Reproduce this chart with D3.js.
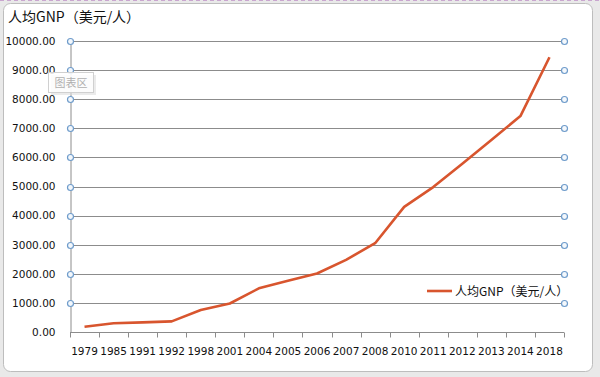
<!DOCTYPE html>
<html lang="zh">
<head>
<meta charset="UTF-8"/>
<title>人均GNP</title>
<script src="https://d3js.org/d3.v7.min.js"></script>
<style>
    body { margin: 0; background: #e9e9e9; }
    text { font-family: "Noto Sans CJK SC", "DejaVu Sans", sans-serif; }
</style>
</head>
<body>
<div id="chart"></div>
<script>
    let width = 600;
    let height = 377;

    // years on the category axis
    var years = ["1979", "1985", "1991", "1992", "1998", "2001", "2004", "2005", "2006",
        "2007", "2008", "2010", "2011", "2012", "2013", "2014", "2018"];
    // GNP per person (USD)
    var gnp = [183, 300, 330, 366, 756, 980, 1500, 1760, 2010,
        2480, 3050, 4300, 4980, 5780, 6600, 7420, 9440];
    var yTicks = [0, 1000, 2000, 3000, 4000, 5000, 6000, 7000, 8000, 9000, 10000];
    var seriesName = "人均GNP（美元/人）";

    // plot area (note: "top" is reserved on window, so use other names)
    var plotL = 70, plotR = 564, plotT = 41, plotB = 332;
    var lineColor = "#d8552e";

    var svg = d3.select("#chart").append("svg")
        .attr("width", width).attr("height", height);

    // outer frame
    svg.append("rect").attr("width", width).attr("height", height).attr("fill", "#e9e9e9");
    svg.append("line").attr("x1", 0).attr("x2", width).attr("y1", 0.5).attr("y2", 0.5)
        .attr("stroke", "#c9a6cf").attr("stroke-dasharray", "4,3");
    svg.append("rect").attr("x", 3.5).attr("y", 3.5).attr("width", 589).attr("height", 368)
        .attr("rx", 7).attr("fill", "#fff").attr("stroke", "#bdbdbd");

    var xScale = d3.scaleBand().domain(years).range([plotL, plotR]);
    var yScale = d3.scaleLinear().domain([0, 10000]).range([plotB, plotT]);

    // gridlines
    svg.append("g").selectAll("line").data(yTicks.slice(1)).enter().append("line")
        .attr("x1", plotL).attr("x2", plotR)
        .attr("y1", d => Math.round(yScale(d)) + 0.5)
        .attr("y2", d => Math.round(yScale(d)) + 0.5)
        .attr("stroke", "#8c8c8c");

    // y axis
    var yAxis = d3.axisLeft(yScale).tickValues(yTicks).tickSize(0).tickPadding(15)
        .tickFormat(d3.format(".2f"));
    var gy = svg.append("g").attr("transform", "translate(" + (plotL + 0.5) + ",0)").call(yAxis);
    gy.select(".domain").attr("stroke", "#8c8c8c");
    gy.selectAll("text").attr("fill", "#111")
        .style("font-family", "'DejaVu Sans', sans-serif").attr("font-size", 10.5);

    // x axis, ticks between categories
    var gx = svg.append("g").attr("transform", "translate(0," + (plotB + 0.5) + ")");
    gx.append("line").attr("x1", plotL).attr("x2", plotR).attr("stroke", "#8c8c8c");
    var edges = years.map(d => xScale(d)).concat([plotR]);
    gx.selectAll("line.tk").data(edges).enter().append("line").attr("class", "tk")
        .attr("x1", d => Math.round(d) + 0.5).attr("x2", d => Math.round(d) + 0.5)
        .attr("y1", 0).attr("y2", 5).attr("stroke", "#8c8c8c");
    gx.selectAll("text").data(years).enter().append("text")
        .attr("x", d => xScale(d) + xScale.bandwidth() / 2)
        .attr("y", 22)
        .attr("text-anchor", "middle")
        .attr("font-size", 10.5)
        .style("font-family", "'DejaVu Sans', sans-serif")
        .attr("fill", "#111")
        .text(d => d);

    // the series line
    var line = d3.line()
        .x((d, i) => xScale(years[i]) + xScale.bandwidth() / 2)
        .y(d => yScale(d));
    svg.append("path").datum(gnp).attr("d", line)
        .attr("fill", "none").attr("stroke", lineColor).attr("stroke-width", 2.6)
        .attr("stroke-linejoin", "round");

    // selection handles on gridlines
    var handles = [];
    yTicks.slice(1).forEach(function (v) {
        handles.push([plotL, v]);
        handles.push([plotR, v]);
    });
    svg.append("g").selectAll("circle").data(handles).enter().append("circle")
        .attr("cx", d => d[0] + 0.5)
        .attr("cy", d => Math.round(yScale(d[1])) + 0.5)
        .attr("r", 3)
        .attr("fill", "#f4f8fc").attr("stroke", "#6f9ccb").attr("stroke-width", 1.2);

    // title
    svg.append("text").attr("x", 8).attr("y", 22).attr("font-size", 14).attr("fill", "#111")
        .text(seriesName);

    // legend
    svg.append("line").attr("x1", 427).attr("x2", 452).attr("y1", 291).attr("y2", 291)
        .attr("stroke", lineColor).attr("stroke-width", 2.6);
    svg.append("text").attr("x", 455).attr("y", 295.5).attr("font-size", 12).attr("fill", "#111")
        .text(seriesName);

    // "chart area" tooltip
    svg.append("rect").attr("x", 51).attr("y", 75).attr("width", 45).attr("height", 20)
        .attr("fill", "#ddd").attr("opacity", 0.6);
    svg.append("rect").attr("x", 48.5).attr("y", 72.5).attr("width", 45).attr("height", 20)
        .attr("fill", "#fff").attr("fill-opacity", 0.85).attr("stroke", "#d0d0d0");
    svg.append("text").attr("x", 71).attr("y", 87).attr("text-anchor", "middle")
        .attr("font-size", 11).attr("fill", "#b0b0b0").text("图表区");
</script>
</body>
</html>
